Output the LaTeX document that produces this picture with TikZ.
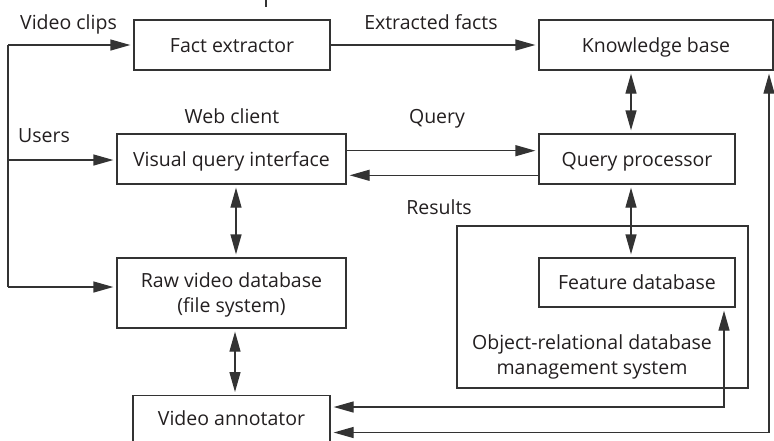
\documentclass[tikz,border=0pt]{standalone}
\usepackage{fontspec}
\setmainfont{Open Sans}
\usetikzlibrary{arrows.meta,calc}
\definecolor{ink}{HTML}{231F20}
\definecolor{linec}{HTML}{333333}
\tikzset{
  box/.style={draw=linec, line width=1.3pt, rectangle, inner sep=0pt, text=ink,
    font=\fontsize{19.5}{25}\selectfont, text height=14pt, text depth=0pt},
  lbl/.style={text=ink, font=\fontsize{19.5}{25}\selectfont, anchor=base, inner sep=0pt},
  conn/.style={draw=linec, line width=1.3pt},
  arr/.style={conn, -{Triangle[length=20pt,width=11pt]}, shorten >=3pt},
  darr/.style={conn, {Triangle[length=20pt,width=11pt]}-{Triangle[length=20pt,width=11pt]}, shorten >=3pt, shorten <=3pt},
}
\begin{document}
\begin{tikzpicture}[x=1pt,y=-1pt]
\useasboundingbox (0,0) rectangle (774,440);
% boxes
\node[box, minimum width=196pt, minimum height=50pt] (fe) at (232,45) {Fact extractor};
\node[box, minimum width=234pt, minimum height=50pt] (kb) at (656,45) {Knowledge base};
\node[box, minimum width=229pt, minimum height=50pt] (vqi) at (231.5,159) {Visual query interface};
\node[box, minimum width=196pt, minimum height=50pt] (qp) at (637,159) {Query processor};
\node[box, minimum width=229pt, minimum height=70pt] (raw) at (231.5,293) {};
\node[lbl] (rawa) at (231.5,287) {Raw video database};
\node[lbl] (rawb) at (231.5,312) {(file system)};
\node[box, minimum width=291pt, minimum height=162pt] (ordb) at (602.5,307) {};
\node[box, minimum width=196pt, minimum height=49pt] (fd) at (637,282.5) {Feature database};
\node[lbl] (orda) at (592,349) {Object-relational database};
\node[lbl] (ordbl) at (592,374) {management system};
\node[box, minimum width=197pt, minimum height=60pt, anchor=north] (va) at (231.5,395) {};
\node[lbl] (vat) at (231.5,425) {Video annotator};
% labels
\node[lbl] (lvc) at (68.5,29) {Video clips};
\node[lbl] (lef) at (431,29) {Extracted facts};
\node[lbl] (lus) at (44,142) {Users};
\node[lbl] (lwc) at (232,123) {Web client};
\node[lbl] (lq) at (437,123) {Query};
\node[lbl] (lr) at (439,214) {Results};
% coordinates
\coordinate (t1) at (266,0);
\coordinate (t2) at (266,7);
\coordinate (l1) at (8,45);
\coordinate (l2) at (8,160);
\coordinate (l3) at (8,287);
\coordinate (cq1) at (0,150.7);
\coordinate (cq2) at (0,175.3);
\coordinate (xa) at (631,0);
\coordinate (xb) at (236,0);
\coordinate (xc) at (235,0);
\coordinate (xd) at (724,0);
\coordinate (xe) at (769,0);
\coordinate (yd) at (0,407);
\coordinate (ye) at (0,432.5);
% connectors
\draw[conn] (t1) -- (t2);
\draw[conn] (l3) -- (l1);
\draw[arr] (l1) -- (l1 -| fe.west);
\draw[arr] (l2) -- (l2 -| vqi.west);
\draw[arr] (l3) -- (l3 -| raw.west);
\draw[arr] (fe.east) -- (kb.west);
\draw[arr] (vqi.east |- cq1) -- (qp.west |- cq1);
\draw[arr] (qp.west |- cq2) -- (vqi.east |- cq2);
\draw[darr] (xa |- kb.south) -- (xa |- qp.north);
\draw[darr] (xa |- qp.south) -- (xa |- fd.north);
\draw[darr] (xb |- vqi.south) -- (xb |- raw.north);
\draw[darr] (xc |- raw.south) -- (xc |- va.north);
\draw[darr] (xd |- fd.south) -- (xd |- yd) -- (va.east |- yd);
\draw[darr] (xe |- kb.south) -- (xe |- ye) -- (va.east |- ye);
\end{tikzpicture}
\end{document}
